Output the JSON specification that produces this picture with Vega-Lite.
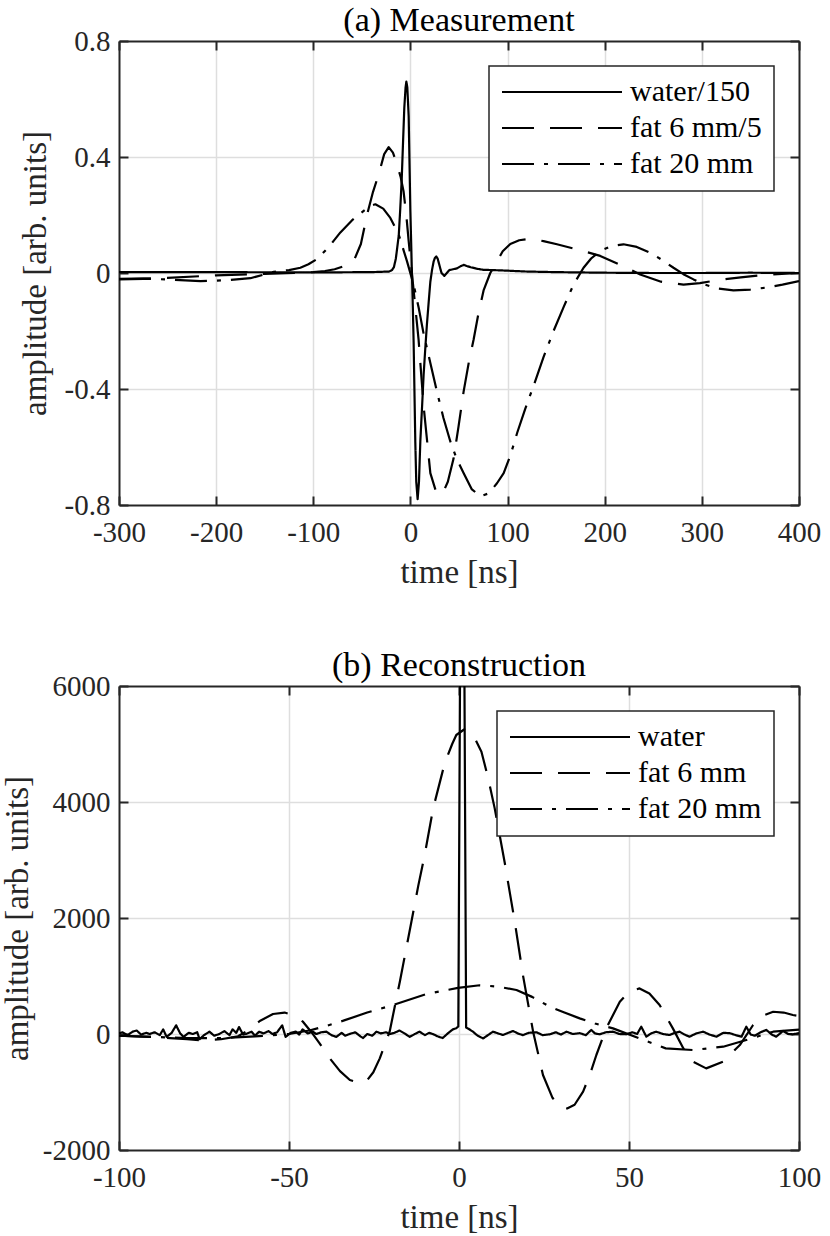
{
  "$schema": "https://vega.github.io/schema/vega-lite/v6.json",
  "background": "white",
  "padding": {"left": 1, "top": 4, "right": 0, "bottom": 0},
  "spacing": 60,
  "config": {
    "font": "Liberation Serif",
    "view": {"stroke": null},
    "axis": {
      "labelFont": "Liberation Serif",
      "labelFontSize": 29,
      "labelColor": "#262626",
      "titleFont": "Liberation Serif",
      "titleFontSize": 33,
      "titleFontWeight": "normal",
      "titleColor": "#262626",
      "domainColor": "#262626",
      "domainWidth": 2,
      "tickColor": "#262626",
      "tickWidth": 2,
      "tickSize": -9,
      "gridColor": "#dedede",
      "gridWidth": 1.5,
      "labelFlush": false,
      "labelOverlap": false
    },
    "axisX": {"labelPadding": 22, "titlePadding": 9},
    "axisY": {"labelPadding": 18, "titlePadding": 8},
    "title": {
      "font": "Liberation Serif",
      "fontSize": 34,
      "fontWeight": "normal",
      "color": "black",
      "anchor": "middle",
      "offset": -11
    },
    "legend": {
      "orient": "top-right",
      "offset": 25,
      "fillColor": "white",
      "strokeColor": "#262626",
      "strokeWidth": 1.5,
      "padding": 12,
      "title": null,
      "symbolType": "stroke",
      "symbolSize": 14400,
      "symbolStrokeWidth": 2,
      "symbolStrokeColor": "black",
      "clipHeight": 28,
      "rowPadding": 6,
      "labelFont": "Liberation Serif",
      "labelFontSize": 30,
      "labelColor": "black",
      "labelOffset": 7,
      "labelLimit": 300
    }
  },
  "resolve": {"scale": {"strokeDash": "independent"}, "legend": {"strokeDash": "independent"}},
  "vconcat": [
    {
      "title": "(a) Measurement",
      "width": 680,
      "height": 464,
      "data": {
        "values": [
          {"series": "water/150", "t": -300, "v": 0.003},
          {"series": "water/150", "t": -200, "v": 0.003},
          {"series": "water/150", "t": -100, "v": 0.002},
          {"series": "water/150", "t": -40, "v": 0.003},
          {"series": "water/150", "t": -22, "v": 0.005},
          {"series": "water/150", "t": -19, "v": 0.01},
          {"series": "water/150", "t": -17, "v": 0.02},
          {"series": "water/150", "t": -15, "v": 0.05},
          {"series": "water/150", "t": -13.5, "v": 0.09},
          {"series": "water/150", "t": -12, "v": 0.13},
          {"series": "water/150", "t": -10.5, "v": 0.22},
          {"series": "water/150", "t": -9, "v": 0.32},
          {"series": "water/150", "t": -7.5, "v": 0.46},
          {"series": "water/150", "t": -6.3, "v": 0.57},
          {"series": "water/150", "t": -5, "v": 0.64},
          {"series": "water/150", "t": -4.2, "v": 0.66},
          {"series": "water/150", "t": -3.2, "v": 0.64},
          {"series": "water/150", "t": -1.8, "v": 0.54},
          {"series": "water/150", "t": -1, "v": 0.39},
          {"series": "water/150", "t": -0.1, "v": 0.22},
          {"series": "water/150", "t": 0.8, "v": 0.1},
          {"series": "water/150", "t": 1.6, "v": -0.01},
          {"series": "water/150", "t": 2.5, "v": -0.12},
          {"series": "water/150", "t": 3.3, "v": -0.24},
          {"series": "water/150", "t": 4.2, "v": -0.42},
          {"series": "water/150", "t": 5, "v": -0.58},
          {"series": "water/150", "t": 6, "v": -0.72},
          {"series": "water/150", "t": 7.4, "v": -0.78},
          {"series": "water/150", "t": 8.8, "v": -0.72},
          {"series": "water/150", "t": 10.2, "v": -0.58},
          {"series": "water/150", "t": 12, "v": -0.46},
          {"series": "water/150", "t": 13.6, "v": -0.35},
          {"series": "water/150", "t": 15.3, "v": -0.26},
          {"series": "water/150", "t": 17, "v": -0.176},
          {"series": "water/150", "t": 18.8, "v": -0.1},
          {"series": "water/150", "t": 20.5, "v": -0.03},
          {"series": "water/150", "t": 22.2, "v": 0.01},
          {"series": "water/150", "t": 23.9, "v": 0.04},
          {"series": "water/150", "t": 25.2, "v": 0.052},
          {"series": "water/150", "t": 26.6, "v": 0.057},
          {"series": "water/150", "t": 28, "v": 0.05},
          {"series": "water/150", "t": 30, "v": 0.025},
          {"series": "water/150", "t": 32, "v": 0.0},
          {"series": "water/150", "t": 34.9, "v": -0.01},
          {"series": "water/150", "t": 37, "v": -0.002},
          {"series": "water/150", "t": 40, "v": 0.01},
          {"series": "water/150", "t": 44, "v": 0.013},
          {"series": "water/150", "t": 48, "v": 0.016},
          {"series": "water/150", "t": 52, "v": 0.024},
          {"series": "water/150", "t": 55, "v": 0.028},
          {"series": "water/150", "t": 58, "v": 0.024},
          {"series": "water/150", "t": 62, "v": 0.02},
          {"series": "water/150", "t": 68, "v": 0.015},
          {"series": "water/150", "t": 75, "v": 0.011},
          {"series": "water/150", "t": 85, "v": 0.01},
          {"series": "water/150", "t": 100, "v": 0.008},
          {"series": "water/150", "t": 120, "v": 0.005},
          {"series": "water/150", "t": 150, "v": 0.003},
          {"series": "water/150", "t": 200, "v": 0.001},
          {"series": "water/150", "t": 250, "v": 0.0},
          {"series": "water/150", "t": 300, "v": 0.0},
          {"series": "water/150", "t": 350, "v": 0.001},
          {"series": "water/150", "t": 400, "v": 0.0},

          {"series": "fat 6 mm/5", "t": -300, "v": -0.02},
          {"series": "fat 6 mm/5", "t": -250, "v": -0.017},
          {"series": "fat 6 mm/5", "t": -200, "v": -0.008},
          {"series": "fat 6 mm/5", "t": -150, "v": -0.003},
          {"series": "fat 6 mm/5", "t": -120, "v": 0.0},
          {"series": "fat 6 mm/5", "t": -100, "v": 0.003},
          {"series": "fat 6 mm/5", "t": -88, "v": 0.007},
          {"series": "fat 6 mm/5", "t": -78, "v": 0.013},
          {"series": "fat 6 mm/5", "t": -68, "v": 0.024},
          {"series": "fat 6 mm/5", "t": -58.4, "v": 0.041},
          {"series": "fat 6 mm/5", "t": -51, "v": 0.1},
          {"series": "fat 6 mm/5", "t": -44.7, "v": 0.2},
          {"series": "fat 6 mm/5", "t": -38.5, "v": 0.28},
          {"series": "fat 6 mm/5", "t": -32.7, "v": 0.34},
          {"series": "fat 6 mm/5", "t": -27, "v": 0.41},
          {"series": "fat 6 mm/5", "t": -22.4, "v": 0.434},
          {"series": "fat 6 mm/5", "t": -18, "v": 0.415},
          {"series": "fat 6 mm/5", "t": -13.8, "v": 0.375},
          {"series": "fat 6 mm/5", "t": -10, "v": 0.33},
          {"series": "fat 6 mm/5", "t": -7, "v": 0.28},
          {"series": "fat 6 mm/5", "t": -4, "v": 0.19},
          {"series": "fat 6 mm/5", "t": -1.8, "v": 0.11},
          {"series": "fat 6 mm/5", "t": 3.3, "v": -0.06},
          {"series": "fat 6 mm/5", "t": 8.4, "v": -0.23},
          {"series": "fat 6 mm/5", "t": 13.6, "v": -0.46},
          {"series": "fat 6 mm/5", "t": 20.5, "v": -0.69},
          {"series": "fat 6 mm/5", "t": 26, "v": -0.75},
          {"series": "fat 6 mm/5", "t": 32.5, "v": -0.765},
          {"series": "fat 6 mm/5", "t": 38.5, "v": -0.72},
          {"series": "fat 6 mm/5", "t": 44.4, "v": -0.64},
          {"series": "fat 6 mm/5", "t": 49.5, "v": -0.53},
          {"series": "fat 6 mm/5", "t": 54.7, "v": -0.41},
          {"series": "fat 6 mm/5", "t": 60, "v": -0.31},
          {"series": "fat 6 mm/5", "t": 65, "v": -0.23},
          {"series": "fat 6 mm/5", "t": 70, "v": -0.14},
          {"series": "fat 6 mm/5", "t": 75.3, "v": -0.06},
          {"series": "fat 6 mm/5", "t": 82.2, "v": 0.0},
          {"series": "fat 6 mm/5", "t": 89.1, "v": 0.04},
          {"series": "fat 6 mm/5", "t": 95, "v": 0.075},
          {"series": "fat 6 mm/5", "t": 102.8, "v": 0.1},
          {"series": "fat 6 mm/5", "t": 112, "v": 0.113},
          {"series": "fat 6 mm/5", "t": 123.4, "v": 0.118},
          {"series": "fat 6 mm/5", "t": 137, "v": 0.11},
          {"series": "fat 6 mm/5", "t": 150.8, "v": 0.099},
          {"series": "fat 6 mm/5", "t": 173, "v": 0.08},
          {"series": "fat 6 mm/5", "t": 195.4, "v": 0.059},
          {"series": "fat 6 mm/5", "t": 216, "v": 0.028},
          {"series": "fat 6 mm/5", "t": 236.5, "v": -0.005},
          {"series": "fat 6 mm/5", "t": 258, "v": -0.03},
          {"series": "fat 6 mm/5", "t": 281.1, "v": -0.04},
          {"series": "fat 6 mm/5", "t": 298, "v": -0.035},
          {"series": "fat 6 mm/5", "t": 315.4, "v": -0.025},
          {"series": "fat 6 mm/5", "t": 340, "v": -0.015},
          {"series": "fat 6 mm/5", "t": 363.4, "v": -0.007},
          {"series": "fat 6 mm/5", "t": 400, "v": 0.0},

          {"series": "fat 20 mm", "t": -300, "v": -0.022},
          {"series": "fat 20 mm", "t": -275, "v": -0.02},
          {"series": "fat 20 mm", "t": -250.4, "v": -0.022},
          {"series": "fat 20 mm", "t": -216, "v": -0.028},
          {"series": "fat 20 mm", "t": -190, "v": -0.025},
          {"series": "fat 20 mm", "t": -164.7, "v": -0.018},
          {"series": "fat 20 mm", "t": -140.7, "v": 0.004},
          {"series": "fat 20 mm", "t": -125, "v": 0.01},
          {"series": "fat 20 mm", "t": -113.3, "v": 0.018},
          {"series": "fat 20 mm", "t": -105, "v": 0.03},
          {"series": "fat 20 mm", "t": -96.1, "v": 0.048},
          {"series": "fat 20 mm", "t": -84, "v": 0.09},
          {"series": "fat 20 mm", "t": -72.1, "v": 0.14},
          {"series": "fat 20 mm", "t": -60, "v": 0.182},
          {"series": "fat 20 mm", "t": -48.1, "v": 0.214},
          {"series": "fat 20 mm", "t": -41, "v": 0.232},
          {"series": "fat 20 mm", "t": -36.1, "v": 0.237},
          {"series": "fat 20 mm", "t": -28, "v": 0.222},
          {"series": "fat 20 mm", "t": -20.7, "v": 0.19},
          {"series": "fat 20 mm", "t": -12.1, "v": 0.133},
          {"series": "fat 20 mm", "t": -3.5, "v": 0.04},
          {"series": "fat 20 mm", "t": 3.3, "v": -0.04},
          {"series": "fat 20 mm", "t": 8.5, "v": -0.12},
          {"series": "fat 20 mm", "t": 13.6, "v": -0.21},
          {"series": "fat 20 mm", "t": 20.5, "v": -0.31},
          {"series": "fat 20 mm", "t": 27.4, "v": -0.41},
          {"series": "fat 20 mm", "t": 34, "v": -0.5},
          {"series": "fat 20 mm", "t": 41, "v": -0.58},
          {"series": "fat 20 mm", "t": 47.5, "v": -0.64},
          {"series": "fat 20 mm", "t": 54.7, "v": -0.69},
          {"series": "fat 20 mm", "t": 63, "v": -0.745},
          {"series": "fat 20 mm", "t": 71.9, "v": -0.77},
          {"series": "fat 20 mm", "t": 80.5, "v": -0.76},
          {"series": "fat 20 mm", "t": 89.1, "v": -0.725},
          {"series": "fat 20 mm", "t": 96, "v": -0.69},
          {"series": "fat 20 mm", "t": 102.8, "v": -0.63},
          {"series": "fat 20 mm", "t": 110, "v": -0.55},
          {"series": "fat 20 mm", "t": 118, "v": -0.47},
          {"series": "fat 20 mm", "t": 126.7, "v": -0.39},
          {"series": "fat 20 mm", "t": 137, "v": -0.29},
          {"series": "fat 20 mm", "t": 147.3, "v": -0.2},
          {"series": "fat 20 mm", "t": 158, "v": -0.115},
          {"series": "fat 20 mm", "t": 167.9, "v": -0.04},
          {"series": "fat 20 mm", "t": 178.2, "v": 0.018},
          {"series": "fat 20 mm", "t": 186, "v": 0.05},
          {"series": "fat 20 mm", "t": 195.4, "v": 0.076},
          {"series": "fat 20 mm", "t": 207, "v": 0.093},
          {"series": "fat 20 mm", "t": 219.3, "v": 0.099},
          {"series": "fat 20 mm", "t": 233, "v": 0.09},
          {"series": "fat 20 mm", "t": 246.8, "v": 0.07},
          {"series": "fat 20 mm", "t": 259, "v": 0.045},
          {"series": "fat 20 mm", "t": 270.8, "v": 0.018},
          {"series": "fat 20 mm", "t": 281, "v": -0.004},
          {"series": "fat 20 mm", "t": 291.4, "v": -0.022},
          {"series": "fat 20 mm", "t": 303, "v": -0.04},
          {"series": "fat 20 mm", "t": 315.4, "v": -0.053},
          {"series": "fat 20 mm", "t": 332.5, "v": -0.06},
          {"series": "fat 20 mm", "t": 350, "v": -0.057},
          {"series": "fat 20 mm", "t": 366.9, "v": -0.05},
          {"series": "fat 20 mm", "t": 383, "v": -0.04},
          {"series": "fat 20 mm", "t": 400, "v": -0.028}
        ]
      },
      "layer": [
        {
          "mark": {"type": "line", "color": "black", "strokeWidth": 2.2, "clip": true, "strokeJoin": "round"},
          "encoding": {
            "x": {
              "field": "t", "type": "quantitative",
              "scale": {"domain": [-300, 400], "nice": false, "zero": false},
              "axis": {
                "title": "time [ns]",
                "values": [-300, -200, -100, 0, 100, 200, 300, 400],
                "labelExpr": "replace(format(datum.value, '~g'), '\u2212', '-')",
                "gridOpacity": {"condition": {"test": "datum.value == -300 || datum.value == 400", "value": 0}, "value": 1}
              }
            },
            "y": {
              "field": "v", "type": "quantitative",
              "scale": {"domain": [-0.8, 0.8], "nice": false, "zero": false},
              "axis": {
                "title": "amplitude [arb. units]",
                "titlePadding": 12,
                "values": [-0.8, -0.4, 0, 0.4, 0.8],
                "labelExpr": "replace(format(datum.value, '~g'), '\u2212', '-')",
                "gridOpacity": {"condition": {"test": "abs(datum.value) == 0.8", "value": 0}, "value": 1}
              }
            },
            "strokeDash": {
              "field": "series", "type": "nominal",
              "scale": {"domain": ["water/150", "fat 6 mm/5", "fat 20 mm"], "range": [[1, 0], [32, 16], [32, 10, 4, 10]]}
            }
          }
        },
        {
          "mark": {"type": "line", "opacity": 0},
          "encoding": {
            "x": {
              "field": "t", "type": "quantitative",
              "scale": {"domain": [-300, 400], "nice": false, "zero": false},
              "axis": {"orient": "top", "labels": false, "grid": false, "title": null, "values": [-300, -200, -100, 0, 100, 200, 300, 400]}
            },
            "y": {
              "field": "v", "type": "quantitative",
              "scale": {"domain": [-0.8, 0.8], "nice": false, "zero": false},
              "axis": {"orient": "right", "labels": false, "grid": false, "title": null, "values": [-0.8, -0.4, 0, 0.4, 0.8]}
            }
          }
        }
      ],
      "resolve": {"axis": {"x": "independent", "y": "independent"}}
    },
    {
      "title": "(b) Reconstruction",
      "width": 680,
      "height": 464,
      "data": {
        "values": [
          {"series": "water", "t": -100, "v": 10},
          {"series": "water", "t": -99, "v": 30},
          {"series": "water", "t": -97.5, "v": -20},
          {"series": "water", "t": -96, "v": 40},
          {"series": "water", "t": -94.8, "v": 60},
          {"series": "water", "t": -93.5, "v": -10},
          {"series": "water", "t": -92, "v": 20},
          {"series": "water", "t": -91, "v": 0},
          {"series": "water", "t": -89.5, "v": 30},
          {"series": "water", "t": -88, "v": -20},
          {"series": "water", "t": -87, "v": 80},
          {"series": "water", "t": -86, "v": -50},
          {"series": "water", "t": -84.5, "v": 20},
          {"series": "water", "t": -83.2, "v": 150},
          {"series": "water", "t": -82, "v": 10},
          {"series": "water", "t": -81, "v": -50},
          {"series": "water", "t": -79.5, "v": 20},
          {"series": "water", "t": -78.3, "v": 0},
          {"series": "water", "t": -77, "v": 30},
          {"series": "water", "t": -76.3, "v": -90},
          {"series": "water", "t": -75, "v": -20},
          {"series": "water", "t": -73.4, "v": 40},
          {"series": "water", "t": -72, "v": -30},
          {"series": "water", "t": -70.5, "v": 0},
          {"series": "water", "t": -69, "v": 50},
          {"series": "water", "t": -67.5, "v": -20},
          {"series": "water", "t": -66.6, "v": 80},
          {"series": "water", "t": -65.5, "v": 20},
          {"series": "water", "t": -64.7, "v": 120},
          {"series": "water", "t": -63.5, "v": -10},
          {"series": "water", "t": -62.7, "v": 0},
          {"series": "water", "t": -61, "v": 40},
          {"series": "water", "t": -60, "v": -30},
          {"series": "water", "t": -58.8, "v": 40},
          {"series": "water", "t": -57.5, "v": 10},
          {"series": "water", "t": -56, "v": 50},
          {"series": "water", "t": -54.9, "v": 0},
          {"series": "water", "t": -53.5, "v": 30},
          {"series": "water", "t": -52, "v": 150},
          {"series": "water", "t": -51, "v": -50},
          {"series": "water", "t": -49.5, "v": 20},
          {"series": "water", "t": -48, "v": 40},
          {"series": "water", "t": -47, "v": -10},
          {"series": "water", "t": -46, "v": 80},
          {"series": "water", "t": -44.5, "v": 10},
          {"series": "water", "t": -43, "v": 40},
          {"series": "water", "t": -42, "v": 0},
          {"series": "water", "t": -40.5, "v": 30},
          {"series": "water", "t": -39, "v": 40},
          {"series": "water", "t": -37.5, "v": -20},
          {"series": "water", "t": -36.1, "v": -50},
          {"series": "water", "t": -34.5, "v": 20},
          {"series": "water", "t": -33.5, "v": -30},
          {"series": "water", "t": -32.2, "v": 0},
          {"series": "water", "t": -30.5, "v": 30},
          {"series": "water", "t": -29, "v": -40},
          {"series": "water", "t": -28.2, "v": -70},
          {"series": "water", "t": -27, "v": 0},
          {"series": "water", "t": -25.5, "v": -30},
          {"series": "water", "t": -24.3, "v": 40},
          {"series": "water", "t": -23, "v": 10},
          {"series": "water", "t": -21.5, "v": 30},
          {"series": "water", "t": -20.4, "v": 0},
          {"series": "water", "t": -19, "v": 20},
          {"series": "water", "t": -17.5, "v": 60},
          {"series": "water", "t": -16, "v": 10},
          {"series": "water", "t": -14.5, "v": -50},
          {"series": "water", "t": -13, "v": 0},
          {"series": "water", "t": -11.6, "v": 40},
          {"series": "water", "t": -10, "v": -20},
          {"series": "water", "t": -8.8, "v": 20},
          {"series": "water", "t": -7.7, "v": 0},
          {"series": "water", "t": -6.3, "v": -40},
          {"series": "water", "t": -4.8, "v": -70},
          {"series": "water", "t": -3.3, "v": 10},
          {"series": "water", "t": -1.8, "v": 80},
          {"series": "water", "t": -0.8, "v": 100},
          {"series": "water", "t": -0.2, "v": 130},
          {"series": "water", "t": 0.3, "v": 6100},
          {"series": "water", "t": 1.6, "v": 6100},
          {"series": "water", "t": 2.1, "v": 110},
          {"series": "water", "t": 2.8, "v": 90},
          {"series": "water", "t": 4.1, "v": 40},
          {"series": "water", "t": 5.5, "v": -30},
          {"series": "water", "t": 7.1, "v": -76},
          {"series": "water", "t": 8.5, "v": -20},
          {"series": "water", "t": 10, "v": 40},
          {"series": "water", "t": 11.5, "v": 10},
          {"series": "water", "t": 12.9, "v": -17},
          {"series": "water", "t": 14.5, "v": 20},
          {"series": "water", "t": 15.9, "v": 52},
          {"series": "water", "t": 17.3, "v": 10},
          {"series": "water", "t": 18.8, "v": -20},
          {"series": "water", "t": 20.5, "v": 20},
          {"series": "water", "t": 22.8, "v": 30},
          {"series": "water", "t": 24.6, "v": -20},
          {"series": "water", "t": 26.7, "v": -5},
          {"series": "water", "t": 28.5, "v": 30},
          {"series": "water", "t": 30, "v": -10},
          {"series": "water", "t": 31.6, "v": 40},
          {"series": "water", "t": 33.5, "v": 0},
          {"series": "water", "t": 35.5, "v": 15},
          {"series": "water", "t": 37.3, "v": -20},
          {"series": "water", "t": 38.9, "v": 70},
          {"series": "water", "t": 40, "v": 10},
          {"series": "water", "t": 41.4, "v": -5},
          {"series": "water", "t": 43.2, "v": 30},
          {"series": "water", "t": 45.3, "v": 40},
          {"series": "water", "t": 47.2, "v": 0},
          {"series": "water", "t": 49.2, "v": -5},
          {"series": "water", "t": 51, "v": 30},
          {"series": "water", "t": 52.4, "v": 0},
          {"series": "water", "t": 53.6, "v": 126},
          {"series": "water", "t": 55.1, "v": -46},
          {"series": "water", "t": 56.5, "v": 10},
          {"series": "water", "t": 58, "v": 40},
          {"series": "water", "t": 60, "v": 0},
          {"series": "water", "t": 61.9, "v": -17},
          {"series": "water", "t": 63.5, "v": 20},
          {"series": "water", "t": 64.9, "v": 40},
          {"series": "water", "t": 66.3, "v": -10},
          {"series": "water", "t": 67.8, "v": -46},
          {"series": "water", "t": 69.8, "v": 10},
          {"series": "water", "t": 71.8, "v": 40},
          {"series": "water", "t": 73.7, "v": -10},
          {"series": "water", "t": 75.7, "v": -46},
          {"series": "water", "t": 77.7, "v": 20},
          {"series": "water", "t": 79.6, "v": 15},
          {"series": "water", "t": 81.4, "v": -20},
          {"series": "water", "t": 83.1, "v": -46},
          {"series": "water", "t": 84.5, "v": 126},
          {"series": "water", "t": 85.8, "v": -10},
          {"series": "water", "t": 87, "v": -30},
          {"series": "water", "t": 88.7, "v": 30},
          {"series": "water", "t": 90.4, "v": 70},
          {"series": "water", "t": 92, "v": -10},
          {"series": "water", "t": 93.3, "v": -46},
          {"series": "water", "t": 95.3, "v": 52},
          {"series": "water", "t": 96.8, "v": 0},
          {"series": "water", "t": 98.2, "v": -5},
          {"series": "water", "t": 100, "v": 15},

          {"series": "fat 6 mm", "t": -100, "v": -30},
          {"series": "fat 6 mm", "t": -95, "v": -40},
          {"series": "fat 6 mm", "t": -90, "v": -50},
          {"series": "fat 6 mm", "t": -85, "v": -70},
          {"series": "fat 6 mm", "t": -80, "v": -90},
          {"series": "fat 6 mm", "t": -75, "v": -110},
          {"series": "fat 6 mm", "t": -70, "v": -90},
          {"series": "fat 6 mm", "t": -65, "v": -40},
          {"series": "fat 6 mm", "t": -62, "v": 60},
          {"series": "fat 6 mm", "t": -58.6, "v": 224},
          {"series": "fat 6 mm", "t": -54.7, "v": 345},
          {"series": "fat 6 mm", "t": -51.3, "v": 370},
          {"series": "fat 6 mm", "t": -48.5, "v": 320},
          {"series": "fat 6 mm", "t": -45.9, "v": 212},
          {"series": "fat 6 mm", "t": -43.5, "v": 40},
          {"series": "fat 6 mm", "t": -41, "v": -162},
          {"series": "fat 6 mm", "t": -38, "v": -420},
          {"series": "fat 6 mm", "t": -35, "v": -640},
          {"series": "fat 6 mm", "t": -32.1, "v": -793},
          {"series": "fat 6 mm", "t": -29.5, "v": -840},
          {"series": "fat 6 mm", "t": -27.2, "v": -810},
          {"series": "fat 6 mm", "t": -25.2, "v": -660},
          {"series": "fat 6 mm", "t": -23.3, "v": -420},
          {"series": "fat 6 mm", "t": -20.4, "v": 40},
          {"series": "fat 6 mm", "t": -17.4, "v": 902},
          {"series": "fat 6 mm", "t": -14, "v": 1936},
          {"series": "fat 6 mm", "t": -12, "v": 2550},
          {"series": "fat 6 mm", "t": -10.1, "v": 3086},
          {"series": "fat 6 mm", "t": -7.6, "v": 3890},
          {"series": "fat 6 mm", "t": -4.2, "v": 4670},
          {"series": "fat 6 mm", "t": -2, "v": 5000},
          {"series": "fat 6 mm", "t": -0.8, "v": 5155},
          {"series": "fat 6 mm", "t": 1.5, "v": 5250},
          {"series": "fat 6 mm", "t": 3.1, "v": 5212},
          {"series": "fat 6 mm", "t": 4.8, "v": 5080},
          {"series": "fat 6 mm", "t": 6.6, "v": 4867},
          {"series": "fat 6 mm", "t": 8.5, "v": 4430},
          {"series": "fat 6 mm", "t": 10.5, "v": 3890},
          {"series": "fat 6 mm", "t": 13.4, "v": 2971},
          {"series": "fat 6 mm", "t": 16.4, "v": 1936},
          {"series": "fat 6 mm", "t": 18.8, "v": 1017},
          {"series": "fat 6 mm", "t": 21.8, "v": 40},
          {"series": "fat 6 mm", "t": 24.7, "v": -707},
          {"series": "fat 6 mm", "t": 27.5, "v": -1100},
          {"series": "fat 6 mm", "t": 29.5, "v": -1240},
          {"series": "fat 6 mm", "t": 31.8, "v": -1283},
          {"series": "fat 6 mm", "t": 34, "v": -1220},
          {"series": "fat 6 mm", "t": 36.5, "v": -995},
          {"series": "fat 6 mm", "t": 38.5, "v": -700},
          {"series": "fat 6 mm", "t": 40.4, "v": -362},
          {"series": "fat 6 mm", "t": 43.3, "v": 97},
          {"series": "fat 6 mm", "t": 47.3, "v": 557},
          {"series": "fat 6 mm", "t": 50, "v": 730},
          {"series": "fat 6 mm", "t": 53.1, "v": 786},
          {"series": "fat 6 mm", "t": 56, "v": 700},
          {"series": "fat 6 mm", "t": 59, "v": 500},
          {"series": "fat 6 mm", "t": 62.9, "v": 97},
          {"series": "fat 6 mm", "t": 66, "v": -250},
          {"series": "fat 6 mm", "t": 68.8, "v": -477},
          {"series": "fat 6 mm", "t": 72.7, "v": -593},
          {"series": "fat 6 mm", "t": 77.7, "v": -477},
          {"series": "fat 6 mm", "t": 82.6, "v": -190},
          {"series": "fat 6 mm", "t": 86.5, "v": 155},
          {"series": "fat 6 mm", "t": 89.5, "v": 320},
          {"series": "fat 6 mm", "t": 92.4, "v": 384},
          {"series": "fat 6 mm", "t": 95.5, "v": 370},
          {"series": "fat 6 mm", "t": 98.2, "v": 327},
          {"series": "fat 6 mm", "t": 100, "v": 310},

          {"series": "fat 20 mm", "t": -100, "v": -30},
          {"series": "fat 20 mm", "t": -90, "v": -50},
          {"series": "fat 20 mm", "t": -80, "v": -70},
          {"series": "fat 20 mm", "t": -70, "v": -70},
          {"series": "fat 20 mm", "t": -60, "v": -40},
          {"series": "fat 20 mm", "t": -50, "v": 0},
          {"series": "fat 20 mm", "t": -44, "v": 60},
          {"series": "fat 20 mm", "t": -39, "v": 140},
          {"series": "fat 20 mm", "t": -34, "v": 230},
          {"series": "fat 20 mm", "t": -27, "v": 370},
          {"series": "fat 20 mm", "t": -19.4, "v": 500},
          {"series": "fat 20 mm", "t": -9.6, "v": 690},
          {"series": "fat 20 mm", "t": -0.3, "v": 795},
          {"series": "fat 20 mm", "t": 6.1, "v": 840},
          {"series": "fat 20 mm", "t": 11, "v": 820},
          {"series": "fat 20 mm", "t": 16.9, "v": 759},
          {"series": "fat 20 mm", "t": 21.5, "v": 640},
          {"series": "fat 20 mm", "t": 26.7, "v": 471},
          {"series": "fat 20 mm", "t": 31, "v": 370},
          {"series": "fat 20 mm", "t": 35.5, "v": 269},
          {"series": "fat 20 mm", "t": 40, "v": 180},
          {"series": "fat 20 mm", "t": 45.3, "v": 97},
          {"series": "fat 20 mm", "t": 53.1, "v": -76},
          {"series": "fat 20 mm", "t": 60.8, "v": -248},
          {"series": "fat 20 mm", "t": 68.8, "v": -276},
          {"series": "fat 20 mm", "t": 77.7, "v": -219},
          {"series": "fat 20 mm", "t": 84.5, "v": -103},
          {"series": "fat 20 mm", "t": 92.4, "v": 40},
          {"series": "fat 20 mm", "t": 100, "v": 74}
        ]
      },
      "layer": [
        {
          "mark": {"type": "line", "color": "black", "strokeWidth": 2.2, "clip": true, "strokeJoin": "round"},
          "encoding": {
            "x": {
              "field": "t", "type": "quantitative",
              "scale": {"domain": [-100, 100], "nice": false, "zero": false},
              "axis": {
                "title": "time [ns]",
                "values": [-100, -50, 0, 50, 100],
                "labelExpr": "replace(format(datum.value, '~g'), '\u2212', '-')",
                "gridOpacity": {"condition": {"test": "abs(datum.value) == 100", "value": 0}, "value": 1}
              }
            },
            "y": {
              "field": "v", "type": "quantitative",
              "scale": {"domain": [-2000, 6000], "nice": false, "zero": false},
              "axis": {
                "title": "amplitude [arb. units]",
                "values": [-2000, 0, 2000, 4000, 6000],
                "labelExpr": "replace(format(datum.value, '~g'), '\u2212', '-')",
                "gridOpacity": {"condition": {"test": "datum.value == -2000 || datum.value == 6000", "value": 0}, "value": 1}
              }
            },
            "strokeDash": {
              "field": "series", "type": "nominal",
              "scale": {"domain": ["water", "fat 6 mm", "fat 20 mm"], "range": [[1, 0], [32, 16], [32, 10, 4, 10]]}
            }
          }
        },
        {
          "mark": {"type": "line", "opacity": 0},
          "encoding": {
            "x": {
              "field": "t", "type": "quantitative",
              "scale": {"domain": [-100, 100], "nice": false, "zero": false},
              "axis": {"orient": "top", "labels": false, "grid": false, "title": null, "values": [-100, -50, 0, 50, 100]}
            },
            "y": {
              "field": "v", "type": "quantitative",
              "scale": {"domain": [-2000, 6000], "nice": false, "zero": false},
              "axis": {"orient": "right", "labels": false, "grid": false, "title": null, "values": [-2000, 0, 2000, 4000, 6000]}
            }
          }
        }
      ],
      "resolve": {"axis": {"x": "independent", "y": "independent"}}
    }
  ]
}
